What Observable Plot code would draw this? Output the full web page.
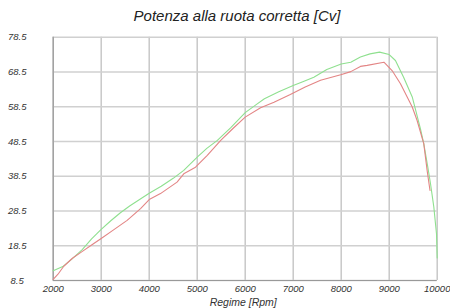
<!DOCTYPE html>
<html><head><meta charset="utf-8">
<script src="https://cdn.jsdelivr.net/npm/d3@7"></script>
<script src="https://cdn.jsdelivr.net/npm/@observablehq/plot@0.6"></script>
<style>
body{margin:0;background:#fff;width:450px;height:308px;overflow:hidden;font-family:"Liberation Sans",Arial,sans-serif;}
#title{position:absolute;left:0;top:0;width:474px;height:30px;text-align:center;font-style:italic;font-size:15px;line-height:32px;color:#222;}
#chart{position:absolute;left:0;top:30px;}
#chart svg{overflow:visible;}
</style></head><body>
<div id="title">Potenza alla ruota corretta [Cv]</div>
<div id="chart"></div>
<script>
const xTicks = [2000,3000,4000,5000,6000,7000,8000,9000,10000];
const yTicks = [8.5,18.5,28.5,38.5,48.5,58.5,68.5,78.5];
const xLabel = "Regime [Rpm]";

const greenRpm = [2000,2200,2400,2600,2800,3000,3200,3400,3600,3800,4000,4250,4500,4720,5000,5200,5420,5700,6000,6200,6400,6700,7000,7200,7430,7700,8000,8200,8400,8600,8800,9000,9130,9300,9480,9650,9720,9800,9860,9930,9985,10000];
const greenCv = [11.3,12.5,14.8,17.3,20.5,23.2,25.7,28.0,30.0,31.8,33.6,35.6,37.9,40.2,44.0,46.5,48.8,52.5,56.8,58.8,60.8,62.8,64.6,65.7,67.0,69.2,70.8,71.3,72.8,73.7,74.2,73.5,71.8,67.0,61.3,52.2,47.9,41.5,36.4,29.6,22.0,15.0];

const redRpm = [2000,2100,2220,2400,2600,2800,3000,3250,3540,3820,4000,4235,4580,4720,4965,5210,5490,5750,6000,6320,6600,6940,7250,7570,7990,8200,8400,8540,8890,9060,9235,9480,9580,9720,9790,9850];
const redCv = [8.8,10.3,12.6,14.9,16.8,18.7,20.6,23.0,25.8,29.2,31.8,33.5,36.8,39.2,41.1,44.5,48.8,52.3,55.5,58.2,59.8,62.0,64.2,66.1,67.7,68.6,70.1,70.4,71.3,68.9,65.1,58.4,54.6,47.9,40.2,34.4];

const green = greenRpm.map((r,i)=>({rpm:r, cv:greenCv[i]}));
const red = redRpm.map((r,i)=>({rpm:r, cv:redCv[i]}));

const chart = Plot.plot({
  width: 450,
  height: 278,
  marginLeft: 52.7,
  marginRight: 13.3,
  marginTop: 6.7,
  marginBottom: 28,
  style: {fontFamily: "'Liberation Sans', Arial, sans-serif", fontSize: "9.5px", fontStyle: "italic", color: "#333", background: "#fff", overflow: "visible"},
  x: {domain: [2000,10000]},
  y: {domain: [8.5,78.5]},
  marks: [
    Plot.gridX(xTicks, {stroke: "#c4c4c4", strokeOpacity: 1, strokeWidth: 1.4}),
    Plot.gridY(yTicks, {stroke: "#d0d0d0", strokeOpacity: 1, strokeWidth: 1.4}),
    Plot.ruleX([2000], {stroke: "#999", strokeWidth: 1.2}),
    Plot.ruleY([8.5], {stroke: "#999", strokeWidth: 1.2}),
    Plot.axisX(xTicks, {tickSize: 0, tickPadding: 5, tickFormat: d => String(d), label: null, fill: "#333"}),
    Plot.axisY(yTicks, {tickSize: 0, tickPadding: 36, textAnchor: "middle", tickFormat: d => d.toFixed(1), label: null, fill: "#333"}),
    Plot.text([xLabel], {frameAnchor: "bottom", lineAnchor: "middle", dy: 22, dx: -2, text: d => d, fontSize: 10.5, fontStyle: "italic", fill: "#333"}),
    Plot.line(green, {x: "rpm", y: "cv", stroke: "#8fe08f", strokeWidth: 1.1}),
    Plot.line(red, {x: "rpm", y: "cv", stroke: "#e38585", strokeWidth: 1.1})
  ]
});
document.getElementById("chart").appendChild(chart);
</script>
</body></html>
